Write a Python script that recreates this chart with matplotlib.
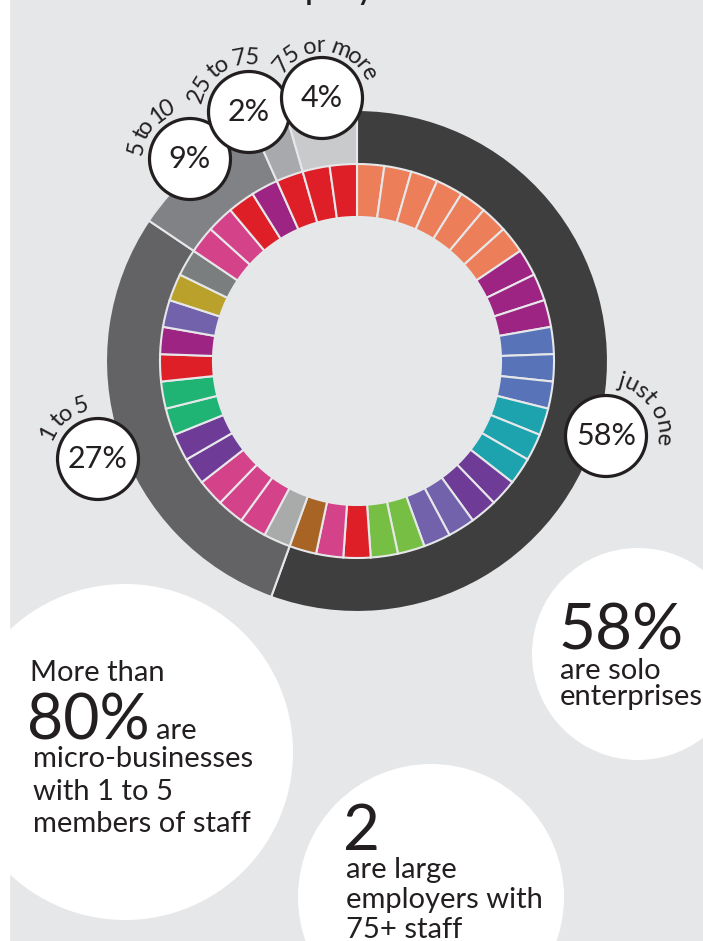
import numpy as np
import matplotlib.pyplot as plt
from matplotlib.patches import Circle
from matplotlib.font_manager import FontProperties, findfont, get_font

# --- data ---
size_groups = ['just one', '1 to 5', '5 to 10', '25 to 75', '75 or more']
size_pct = [58, 27, 9, 2, 4]
# how many of the 45 small tiles each band of the outer ring covers
size_tiles = [25, 13, 4, 1, 2]
group_colors = ['#3e3e3f', '#636365', '#808285', '#a7a9ac', '#c9cacc']

# one tile per business, clockwise from 12 o'clock
business_colors = (['#ec7f5a'] * 7 + ['#9d2482'] * 3 + ['#5873b8'] * 3 +
                   ['#1ca3ad'] * 3 + ['#6e3c96'] * 2 + ['#7262ab'] * 2 +
                   ['#77bf44'] * 2 + ['#df1f27', '#d44389', '#a86425', '#a9abab'] +
                   ['#d44389'] * 3 + ['#6e3c96'] * 2 + ['#1fb374'] * 2 +
                   ['#df1f27', '#9d2482', '#7262ab', '#b9a12b', '#7a7e7e'] +
                   ['#d44389'] * 2 + ['#df1f27', '#9d2482'] + ['#df1f27'] * 3)

W, H = 703, 941
BG = '#e6e7e9'
INK = '#231f20'
FONT = 'Lato'
plt.rcParams['font.family'] = [FONT, 'DejaVu Sans']

fig = plt.figure(figsize=(W / 100, H / 100), dpi=100, facecolor=BG)
ax = fig.add_axes([0, 0, 1, 1])

cx, cy = 357, H - 361

ax.pie(size_tiles, colors=group_colors, radius=251, center=(cx, cy),
       startangle=90, counterclock=False,
       wedgeprops=dict(width=57, edgecolor=BG, linewidth=1.5))
ax.pie([1] * len(business_colors), colors=business_colors, radius=197,
       center=(cx, cy), startangle=90, counterclock=False,
       wedgeprops=dict(width=53, edgecolor=BG, linewidth=1.5))


def char_advances(s, size):
    font = get_font(findfont(FontProperties(family=FONT)))
    font.set_size(size, 72)
    adv = []
    for ch in s:
        g = font.load_char(ord(ch))
        adv.append(g.linearHoriAdvance / 65536)
    return np.array(adv)


def arc_text(x0, y0, r, a0, a1, s, size=17):
    # first letter centred at angle a0, last at a1, the rest spread by width
    adv = char_advances(s, size)
    c = np.cumsum(adv) - adv / 2
    t = (c - c[0]) / (c[-1] - c[0])
    for ch, ti in zip(s, t):
        th = np.radians(a0 + ti * (a1 - a0))
        ax.text(x0 + r * np.cos(th), y0 + r * np.sin(th), ch, fontsize=size,
                ha='center', va='baseline', rotation=np.degrees(th) - 90,
                rotation_mode='anchor', color=INK)


# percentage badges and their curved captions
badge_xy = [(606, 436), (98, 459), (190, 159), (249, 112), (322, 98)]
caption_arc = [(74, -4), (152, 107), (168, 115), (162, 87), (140, 28)]
caption_r = [51, 49, 48, 48, 46]
for name, pct, (bx, by), (a0, a1), rr in zip(size_groups, size_pct, badge_xy,
                                             caption_arc, caption_r):
    ax.add_patch(Circle((bx, H - by), 40.5, facecolor='white',
                        edgecolor=INK, linewidth=2.3, zorder=3))
    ax.text(bx, H - by, f'{pct}%', fontsize=22, ha='center', va='center',
            color=INK, zorder=4)
    arc_text(bx, H - by, rr, a0, a1, name)

# white bubbles at the bottom
for (bx, by), br in [((125, 752), 168), ((638, 654), 106), ((431, 897), 133)]:
    ax.add_patch(Circle((bx, H - by), br, facecolor='white', edgecolor='none'))

txt = dict(color=INK, va='baseline', ha='left')
ax.text(30, H - 681, 'More than', fontsize=21, **txt)
ax.text(27, H - 739, '80%', fontsize=45, **txt)
ax.text(156, H - 739, 'are', fontsize=21, **txt)
ax.text(33, H - 767, 'micro-businesses', fontsize=21, **txt)
ax.text(33, H - 800, 'with 1 to 5', fontsize=21, **txt)
ax.text(33, H - 832, 'members of staff', fontsize=21, **txt)

ax.text(558, H - 650, '58%', fontsize=46, **txt)
ax.text(560, H - 679, 'are solo', fontsize=21, **txt)
ax.text(560, H - 705, 'enterprises', fontsize=21, **txt)

ax.text(343, H - 850, '2', fontsize=46, **txt)
ax.text(346, H - 878, 'are large', fontsize=21, **txt)
ax.text(346, H - 908, 'employers with', fontsize=21, **txt)
ax.text(346, H - 938, '75+ staff', fontsize=21, **txt)

# bottom of the title line, cut off by the top edge
ax.text(254, H + 2, 'employ', fontsize=27, **txt)

ax.axvspan(0, 9, color='white', zorder=0)
ax.set_xlim(0, W)
ax.set_ylim(0, H)
ax.set_aspect('equal')
ax.axis('off')

fig.savefig('out.png', dpi=100, facecolor=BG)
